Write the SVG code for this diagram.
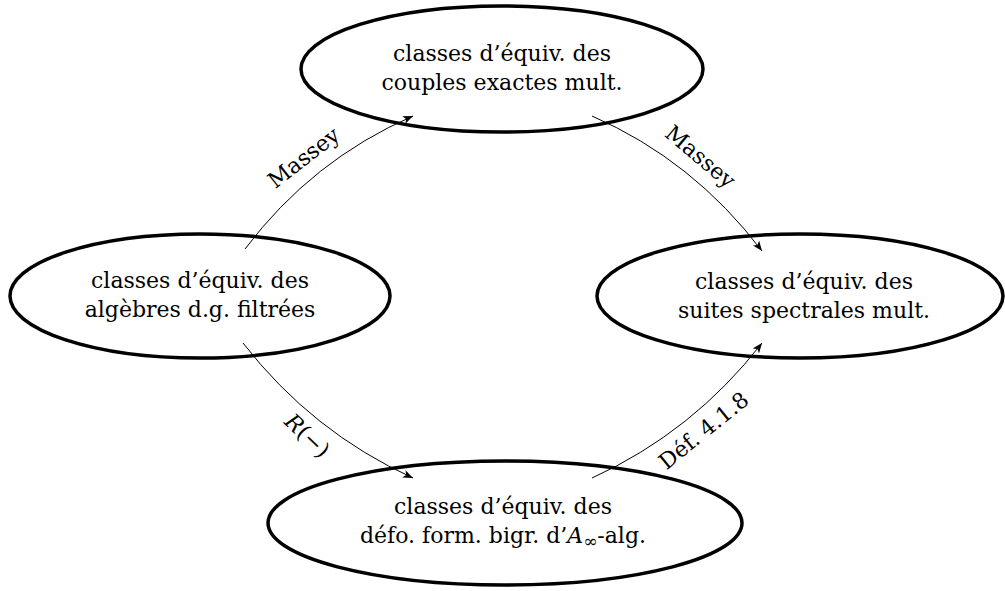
<svg xmlns="http://www.w3.org/2000/svg" width="1005" height="591" viewBox="0 0 1005 591">
<style>
.node{fill:none;stroke:#000;stroke-width:3.5}
.lbl{font-family:"DejaVu Serif","Liberation Serif",serif;font-size:22px;fill:#000;text-anchor:middle}
.edge{fill:none;stroke:#000;stroke-width:1}
.it{font-style:italic}
</style>
<defs>
<marker id="ah" viewBox="0 0 10 8" refX="10" refY="4" markerWidth="10" markerHeight="8" markerUnits="userSpaceOnUse" orient="auto">
<path d="M0,0 L10,4 L0,8 L2.5,4 Z" fill="#000"/>
</marker>
</defs>
<rect width="1005" height="591" fill="#fff"/>
<g id="n-couples">
<ellipse class="node" cx="502" cy="69" rx="201" ry="63"/>
<text class="lbl" x="502" y="61">classes d’équiv. des</text>
<text class="lbl" x="502" y="90">couples exactes mult.</text>
</g>
<g id="n-algebres">
<ellipse class="node" cx="200" cy="296" rx="190" ry="62"/>
<text class="lbl" x="200" y="288">classes d’équiv. des</text>
<text class="lbl" x="200" y="317">algèbres d.g. filtrées</text>
</g>
<g id="n-suites">
<ellipse class="node" cx="800" cy="296" rx="203" ry="62"/>
<text class="lbl" x="804" y="289">classes d’équiv. des</text>
<text class="lbl" x="804" y="318">suites spectrales mult.</text>
</g>
<g id="n-defo">
<ellipse class="node" cx="505" cy="523" rx="237" ry="62"/>
<text class="lbl" x="503" y="514">classes d’équiv. des</text>
<text class="lbl" x="503" y="543">défo. form. bigr. d’<tspan class="it">A</tspan><tspan font-size="17" dy="4">∞</tspan><tspan dy="-4">-alg.</tspan></text>
</g>
<g id="connectors">
<path class="edge" d="M245,249 Q312,160 413,116" marker-end="url(#ah)"/>
<path class="edge" d="M592,116 Q693,160 762,251" marker-end="url(#ah)"/>
<path class="edge" d="M243,343 Q312,432 413,478" marker-end="url(#ah)"/>
<path class="edge" d="M592,478 Q693,432 762,343" marker-end="url(#ah)"/>
<text class="lbl" transform="translate(304,158) rotate(-38)" y="7">Massey</text>
<text class="lbl" transform="translate(700,157) rotate(40)" y="7">Massey</text>
<text class="lbl" transform="translate(307,436) rotate(44)" y="7"><tspan class="it">R</tspan>(−)</text>
<text class="lbl" transform="translate(704,431) rotate(-39)" y="7">Déf. 4.1.8</text>
</g>
</svg>
